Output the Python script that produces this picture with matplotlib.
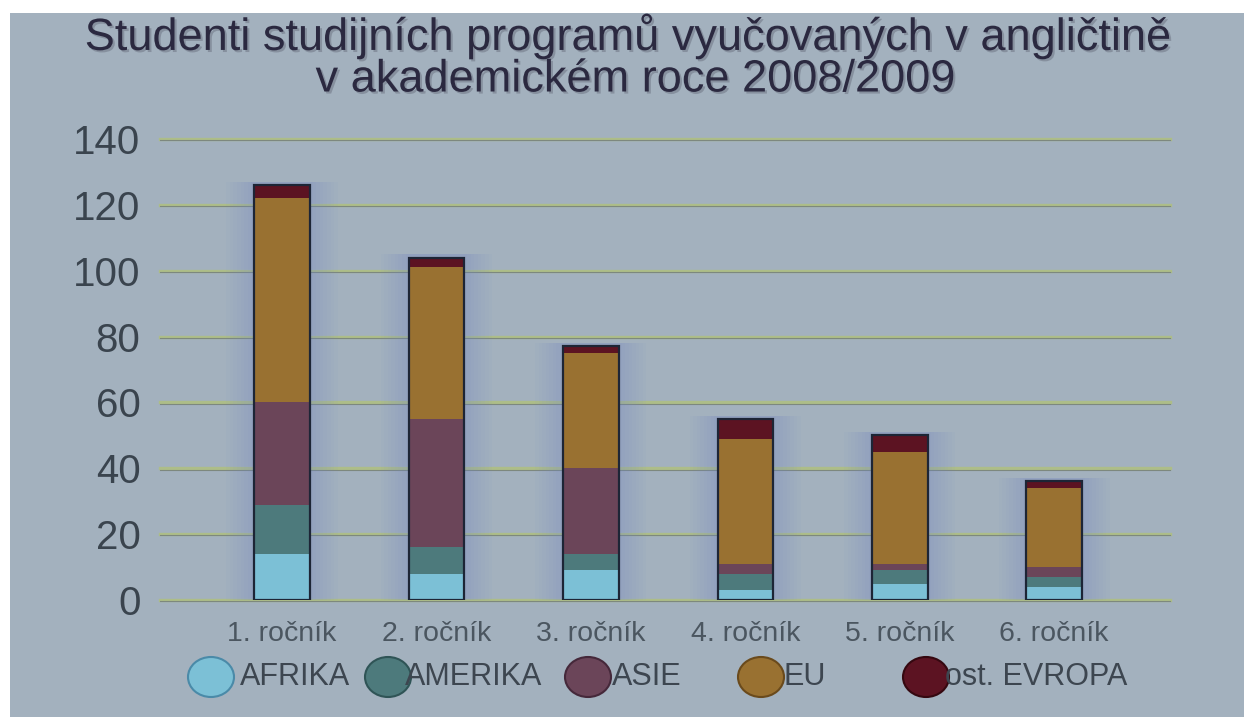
"""Stacked bar chart: students of English-taught programmes by year of study, 2008/2009."""
import numpy as np
import matplotlib

matplotlib.use("Agg")
import matplotlib.pyplot as plt
from matplotlib.patches import Ellipse, Rectangle
import matplotlib.patheffects as pe

# data
years = ["1. ročník", "2. ročník", "3. ročník", "4. ročník", "5. ročník", "6. ročník"]
series = ["AFRIKA", "AMERIKA", "ASIE", "EU", "ost. EVROPA"]
afrika = [14, 8, 9, 3, 5, 4]
amerika = [15, 8, 5, 5, 4, 3]
asie = [31, 39, 26, 3, 2, 3]
eu = [62, 46, 35, 38, 34, 24]
ost_evropa = [4, 3, 2, 6, 5, 2]
yticks = [0, 20, 40, 60, 80, 100, 120, 140]

colors = ["#7cc0d6", "#4d7a7c", "#6b4559", "#997131", "#5c1322"]
edge_colors = ["#4a8aa8", "#2f5456", "#45283a", "#6a4a1c", "#350810"]
BG = "#a3b1be"
W, H = 1244, 717

fig = plt.figure(figsize=(W / 100, H / 100), dpi=100, facecolor="white")
# grey-blue panel below a thin white strip
fig.add_artist(Rectangle((10 / W, 0), 1, 1 - 13 / H, transform=fig.transFigure,
                         facecolor=BG, edgecolor="none", zorder=-10))

ymax = 142
px_per_unit = 461 / 140
ax = fig.add_axes([160 / W, 1 - 600 / H, 1010 / W, ymax * px_per_unit / H])
ax.set_facecolor("none")
for s in ax.spines.values():
    s.set_visible(False)

x = np.arange(len(years))
ax.set_xlim(-0.79, 5.75)
ax.set_ylim(0, ymax)

for t in yticks:
    ax.axhline(t, color="#adbd88", lw=2.4, zorder=1, clip_on=False)
    ax.axhline(t - 0.4, color="#7d887e", lw=0.8, zorder=1, clip_on=False)

data = [afrika, amerika, asie, eu, ost_evropa]
totals = np.sum(data, axis=0)
width = 0.36

# soft bluish glow behind the bars
for k in np.linspace(0.40, 0.72, 8):
    ax.bar(x, totals + 2, width=k, bottom=-1, color="#7486d4", alpha=0.045,
           edgecolor="none", zorder=2)

bottom = np.zeros(len(years))
for vals, c in zip(data, colors):
    ax.bar(x, vals, width=width, bottom=bottom, color=c, edgecolor="none", zorder=3)
    bottom += vals
ax.bar(x, totals, width=width, fill=False, edgecolor="#1d2536", lw=1.6, zorder=4)

ax.set_yticks(yticks)
ax.set_yticklabels([str(t) for t in yticks], fontsize=29, color="#3a444e",
                   family="Liberation Sans")
ax.set_xticks(x)
ax.set_xticklabels(years, fontsize=20.5, color="#4b5660", family="Liberation Sans")
ax.tick_params(axis="y", length=0, pad=14)
ax.tick_params(axis="x", length=0, pad=15)

# title
title_font = dict(family="Liberation Sans", color="#2b2940",
                  ha="center", va="center",
                  path_effects=[pe.withSimplePatchShadow(offset=(1.5, -1.5),
                                                         shadow_rgbFace="#6a7080",
                                                         alpha=0.5)])
fig.text(627 / W, 1 - 36 / H, "Studenti studijních programů vyučovaných v angličtině",
         fontsize=32.5, **title_font)
fig.text(635 / W, 1 - 80 / H, "v akademickém roce 2008/2009", fontsize=32.5, **title_font)

# legend: big round swatches overlapping the labels
swatch_x = [211, 388, 588, 761, 926]
text_x = [240, 405, 612, 783, 945]
ly = 677
for name, c, ec, sx, tx in zip(series, colors, edge_colors, swatch_x, text_x):
    fig.add_artist(Ellipse((sx / W, 1 - ly / H), 46 / W, 40 / H, transform=fig.transFigure,
                           facecolor=c, edgecolor=ec, lw=1.5, zorder=5))
    fig.text(tx / W, 1 - ly / H, name, fontsize=22, color="#3d4650",
             family="Liberation Sans", ha="left", va="center", zorder=6)

fig.savefig("out.png", dpi=100, facecolor=fig.get_facecolor())
